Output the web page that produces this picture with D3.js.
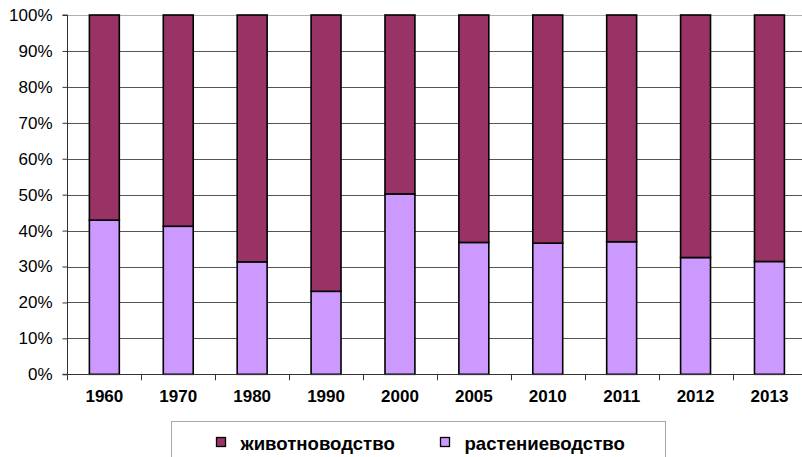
<!DOCTYPE html>
<html lang="ru">
  <head>
    <meta charset="UTF-8" />
    <title>Структура продукции сельского хозяйства</title>
    <script src="https://d3js.org/d3.v7.min.js"></script>
    <style>
      body { margin: 0; background: #fff; }
      text { font-family: "Liberation Sans", Arial, sans-serif; }
    </style>
  </head>
  <body>
    <svg id="chart" width="802" height="457"></svg>

    <script>
      // Data (percent of total)
      const years = ["1960", "1970", "1980", "1990", "2000", "2005", "2010", "2011", "2012", "2013"];
      const crops = [42.9, 41.2, 31.3, 23.1, 50.2, 36.7, 36.5, 36.9, 32.5, 31.4];
      const livestock = [57.1, 58.8, 68.7, 76.9, 49.8, 63.3, 63.5, 63.1, 67.5, 68.6];
      const seriesNames = ["растениеводство", "животноводство"];
      const legendOrder = ["животноводство", "растениеводство"];
      const yTicks = [0, 10, 20, 30, 40, 50, 60, 70, 80, 90, 100];

      const colors = {
        "животноводство": "#993366",
        "растениеводство": "#cc99ff",
      };

      const rows = years.map((y, i) => ({
        year: y,
        "растениеводство": crops[i],
        "животноводство": livestock[i],
      }));

      const plotLeft = 67.4, plotRight = 806.4, plotTop = 15, plotBottom = 374.3;

      const svg = d3.select("#chart");

      const x = d3.scaleBand().domain(years).range([plotLeft, plotRight]).padding(0);
      const barW = x.bandwidth() * 0.405;
      const y = d3.scaleLinear().domain([0, 100]).range([plotBottom, plotTop]);

      // Gridlines
      svg
        .append("g")
        .selectAll("line")
        .data(yTicks)
        .enter()
        .append("line")
        .attr("x1", plotLeft)
        .attr("x2", 802)
        .attr("y1", (d) => Math.round(y(d)) + 0.5)
        .attr("y2", (d) => Math.round(y(d)) + 0.5)
        .attr("stroke", (d) => (d === 100 ? "#b0b0b0" : "#555"))
        .attr("stroke-width", 1);

      // Y axis
      const yAxis = svg
        .append("g")
        .attr("transform", `translate(${Math.round(plotLeft) + 0.5},0)`)
        .call(
          d3
            .axisLeft(y)
            .tickValues(yTicks)
            .tickFormat((d) => d + "%")
            .tickSize(5)
            .tickPadding(10)
        );
      yAxis.selectAll("text").attr("font-size", 17).attr("fill", "#000")
        .attr("font-family", "Liberation Sans, Arial, sans-serif");
      yAxis.selectAll("line, path").attr("stroke", "#333");
      yAxis.select(".domain").attr("d", `M-5,${plotTop}H0V${plotBottom}H-5`);

      // Stacked bars
      const stack = d3.stack().keys(seriesNames)(rows);
      svg
        .append("g")
        .selectAll("g")
        .data(stack)
        .enter()
        .append("g")
        .attr("fill", (s) => colors[s.key])
        .selectAll("rect")
        .data((s) => s)
        .enter()
        .append("rect")
        .attr("x", (d) => x(d.data.year) + (x.bandwidth() - barW) / 2)
        .attr("y", (d) => y(d[1]))
        .attr("width", barW)
        .attr("height", (d) => y(d[0]) - y(d[1]))
        .attr("stroke", "#000")
        .attr("stroke-width", 1.6);

      // X axis: line, ticks at band boundaries, bold labels
      const xg = svg.append("g");
      xg.append("line")
        .attr("x1", plotLeft)
        .attr("x2", 802)
        .attr("y1", Math.round(plotBottom) + 0.5)
        .attr("y2", Math.round(plotBottom) + 0.5)
        .attr("stroke", "#333");
      xg.selectAll(".tick")
        .data(years)
        .enter()
        .append("line")
        .attr("class", "tick")
        .attr("x1", (d) => Math.round(x(d)) + 0.5)
        .attr("x2", (d) => Math.round(x(d)) + 0.5)
        .attr("y1", plotBottom)
        .attr("y2", plotBottom + 6)
        .attr("stroke", "#333");
      xg.selectAll(".label")
        .data(years)
        .enter()
        .append("text")
        .attr("class", "label")
        .attr("x", (d) => x(d) + x.bandwidth() / 2)
        .attr("y", 396)
        .attr("dy", "0.35em")
        .attr("text-anchor", "middle")
        .attr("font-size", 17)
        .attr("font-weight", "bold")
        .text((d) => d);

      // Legend
      const legend = svg.append("g");
      legend
        .append("rect")
        .attr("x", 171.5)
        .attr("y", 421.5)
        .attr("width", 494)
        .attr("height", 50)
        .attr("fill", "#fff")
        .attr("stroke", "#a8a8a8");
      const legendX = [216, 440];
      const items = legend
        .selectAll(".item")
        .data(legendOrder)
        .enter()
        .append("g")
        .attr("class", "item")
        .attr("transform", (d, i) => `translate(${legendX[i]},442)`);
      items
        .append("rect")
        .attr("x", 0.5)
        .attr("y", -4.5)
        .attr("width", 9)
        .attr("height", 9)
        .attr("fill", (d) => colors[d])
        .attr("stroke", "#000")
        .attr("stroke-width", 1.3);
      items
        .append("text")
        .attr("x", 24.5)
        .attr("y", 1)
        .attr("dy", "0.35em")
        .attr("font-size", 18.6)
        .attr("font-weight", "bold")
        .text((d) => d);
    </script>
  </body>
</html>
